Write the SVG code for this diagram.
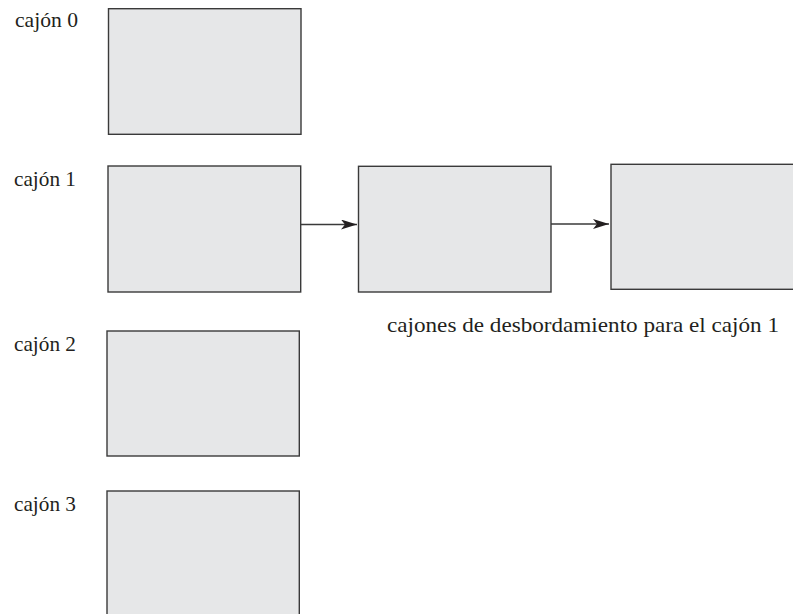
<svg xmlns="http://www.w3.org/2000/svg" width="793" height="614" viewBox="0 0 793 614">
<style>
.box{fill:#e6e7e8;stroke:#3a3a3a;stroke-width:1.4}
.lbl{font-family:"Liberation Serif","DejaVu Serif",serif;font-size:21px;fill:#231f20}
.conn{stroke:#3a3a3a;stroke-width:1.3;fill:none}
</style>
<defs>
<marker id="ah" viewBox="0 0 16 10" refX="16" refY="5" markerWidth="16" markerHeight="10" markerUnits="userSpaceOnUse" orient="auto">
<path d="M0,0 L16,5 L0,10 L4,5 Z" fill="#231f20"/>
</marker>
</defs>
<rect width="793" height="614" fill="#ffffff"/>
<g id="cajon0">
<rect class="box" x="108.5" y="8.7" width="192.5" height="125.6"/>
<text class="lbl" x="15" y="26.5" textLength="63" lengthAdjust="spacingAndGlyphs">cajón 0</text>
</g>
<g id="cajon1">
<rect class="box" x="108" y="166" width="192.7" height="126"/>
<text class="lbl" x="14" y="186" textLength="62" lengthAdjust="spacingAndGlyphs">cajón 1</text>
</g>
<g id="desborde1">
<rect class="box" x="358.5" y="166.3" width="192.5" height="125.7"/>
</g>
<g id="desborde2">
<rect class="box" x="611" y="164.3" width="194" height="125"/>
</g>
<g id="cajon2">
<rect class="box" x="107" y="331" width="192.3" height="125"/>
<text class="lbl" x="14" y="351" textLength="62" lengthAdjust="spacingAndGlyphs">cajón 2</text>
</g>
<g id="cajon3">
<rect class="box" x="107" y="491" width="192.3" height="130"/>
<text class="lbl" x="14" y="511" textLength="62" lengthAdjust="spacingAndGlyphs">cajón 3</text>
</g>
<g id="etiqueta">
<text class="lbl" x="387" y="332.3" textLength="392" lengthAdjust="spacingAndGlyphs">cajones de desbordamiento para el cajón 1</text>
</g>
<g id="conectores">
<line class="conn" x1="301" y1="224.5" x2="357" y2="224.5" marker-end="url(#ah)"/>
<line class="conn" x1="551" y1="224" x2="609" y2="224" marker-end="url(#ah)"/>
</g>
</svg>
